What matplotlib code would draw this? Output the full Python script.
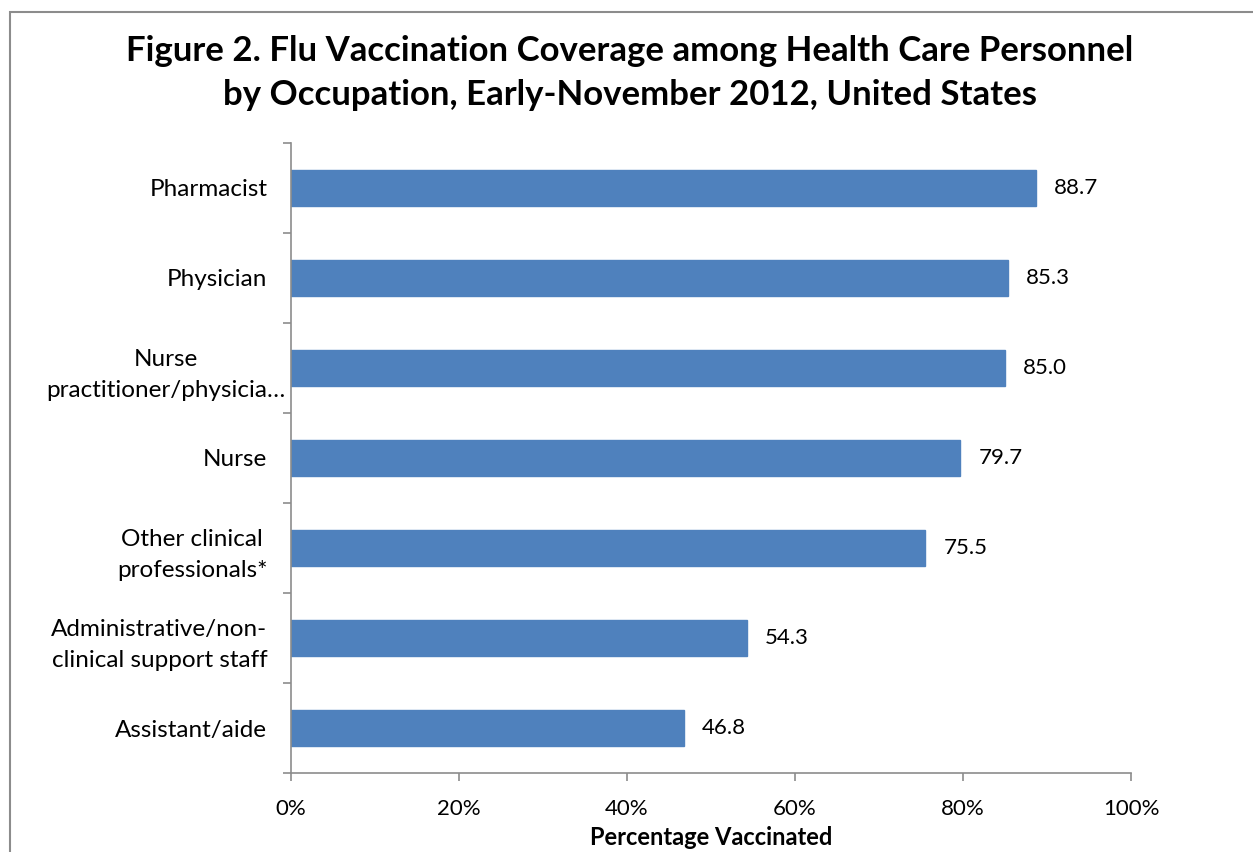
import matplotlib.pyplot as plt
from matplotlib.patches import Rectangle
from matplotlib.transforms import ScaledTranslation

# data
occupations = ["Pharmacist", "Physician", "Nurse\npractitioner/physicia\u2026", "Nurse",
               "Other clinical\nprofessionals*", "Administrative/non-\nclinical support staff",
               "Assistant/aide"]
coverage = [88.7, 85.3, 85.0, 79.7, 75.5, 54.3, 46.8]
xticks = [0, 20, 40, 60, 80, 100]

plt.rcParams['font.family'] = ['Lato', 'DejaVu Sans']

W, H = 1253, 852
fig = plt.figure(figsize=(W / 100, H / 100), dpi=100)
ax = fig.add_axes([291 / W, 1 - 773 / H, (1131 - 291) / W, (773 - 143) / H])

# chart frame (cropped on the right/bottom in the reference)
fig.patches.append(Rectangle((10 / W, -0.1), 1.2, 1 - 12 / H + 0.1, transform=fig.transFigure,
                             fill=False, edgecolor='#8c8c8c', linewidth=1.5))

ypos = list(range(len(occupations)))
ax.barh(ypos, coverage, height=0.4, color='#4f81bd', edgecolor='#4f81bd')
for y, v in zip(ypos, coverage):
    ax.annotate(f"{v:.1f}", (v, y), xytext=(13, 0), textcoords='offset points',
                va='center', ha='left', fontsize=16)

ax.set_ylim(len(occupations) - 0.5, -0.5)
ax.set_xlim(0, 100)
ax.set_xticks(xticks)
ax.set_xticklabels([f"{t}%" for t in xticks], fontsize=16)
ax.set_yticks(ypos)
ax.set_yticklabels(occupations, fontsize=17.5, ha='right', multialignment='center',
                   linespacing=1.6)
ax.set_yticks([i - 0.5 for i in range(len(occupations) + 1)], minor=True)
ax.tick_params(axis='y', which='major', length=0, pad=17)
ax.tick_params(axis='y', which='minor', length=6, color='#8c8c8c', width=1.2)
ax.tick_params(axis='x', length=6, color='#8c8c8c', width=1.2, pad=13)

# the truncated label runs past the others, as in the reference
lbl = ax.get_yticklabels()[2]
lbl.set_transform(lbl.get_transform() + ScaledTranslation(0.18, 0, fig.dpi_scale_trans))

for s in ['top', 'right']:
    ax.spines[s].set_visible(False)
for s in ['left', 'bottom']:
    ax.spines[s].set_color('#8c8c8c')
    ax.spines[s].set_linewidth(1.2)

ax.set_xlabel("Percentage Vaccinated", fontsize=17, fontweight='bold', labelpad=5)
fig.text(630 / W, 1 - 73 / H, "Figure 2. Flu Vaccination Coverage among Health Care Personnel\n"
         "by Occupation, Early-November 2012, United States",
         ha='center', va='center', fontsize=25, fontweight='bold', linespacing=1.45)

fig.savefig("out.png", dpi=100)
